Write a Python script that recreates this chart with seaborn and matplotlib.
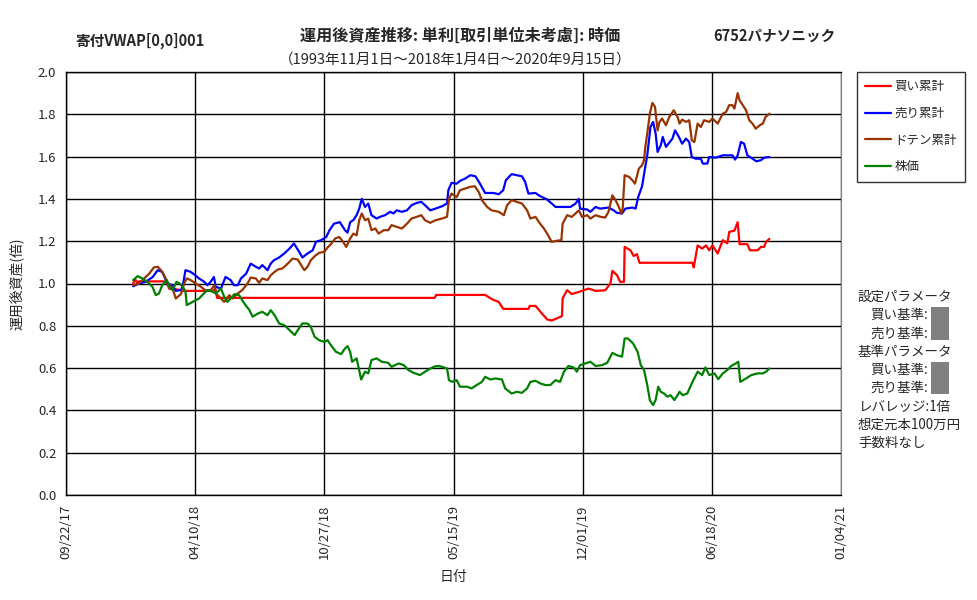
"""
Recreate: 運用後資産推移 line chart (6752 パナソニック)
"""
import pandas as pd
import numpy as np
import matplotlib
matplotlib.use('Agg')
import matplotlib.pyplot as plt
import matplotlib.dates as mdates
import seaborn as sns

sns.set_style('white')
plt.rcParams['font.family'] = ['Noto Sans CJK JP', 'DejaVu Sans']

# ---------------------------------------------------------
# Data (days counted from 2017-09-22)
# ---------------------------------------------------------
START = pd.Timestamp('2017-09-22')

red_day = [104, 107, 110, 113, 155, 160, 172, 183, 228, 231, 234, 571, 573, 649, 660,
           670, 677, 716, 718, 727, 737, 745, 752, 760, 768, 769, 776, 783, 794, 809,
           820, 835, 843, 846, 853, 858, 864, 865, 874, 879, 884, 888, 970, 972, 978,
           985, 991, 996, 1001, 1009, 1017, 1024, 1027, 1035, 1040, 1043, 1055, 1059, 1071, 1076,
           1081, 1084, 1089]
red_val = [1.0, 1.02, 1.005, 1.01, 1.01, 0.975, 0.972, 0.965, 0.965, 0.976, 0.932, 0.932, 0.946, 0.946, 0.925,
           0.913, 0.88, 0.88, 0.894, 0.894, 0.858, 0.83, 0.825, 0.835, 0.846, 0.93, 0.969, 0.95, 0.96, 0.976,
           0.965, 0.968, 1.0, 1.06, 1.04, 1.008, 1.008, 1.173, 1.157, 1.13, 1.139, 1.098, 1.098, 1.076, 1.18,
           1.165, 1.18, 1.157, 1.18, 1.142, 1.205, 1.19, 1.244, 1.25, 1.29, 1.186, 1.186, 1.157, 1.157, 1.173,
           1.173, 1.197, 1.211]

blue_day = [104, 113, 123, 134, 142, 149, 157, 165, 170, 178, 181, 185, 193, 198, 206,
            214, 219, 224, 229, 232, 240, 247, 255, 260, 266, 271, 279, 286, 294, 299,
            304, 312, 317, 322, 330, 338, 346, 353, 361, 366, 374, 382, 387, 395, 403,
            408, 415, 424, 432, 436, 440, 445, 450, 454, 458, 463, 468, 473, 481, 486,
            494, 502, 507, 512, 520, 528, 535, 543, 550, 556, 564, 572, 582, 590, 592,
            597, 605, 610, 618, 626, 634, 641, 649, 662, 670, 677, 681, 690, 698, 706,
            711, 716, 727, 732, 737, 745, 752, 758, 781, 789, 794, 796, 807, 812, 820,
            827, 840, 848, 853, 861, 866, 877, 882, 886, 892, 896, 900, 905, 909, 913,
            916, 921, 924, 929, 935, 939, 943, 949, 954, 960, 965, 969, 975, 983, 986,
            993, 996, 1006, 1017, 1032, 1036, 1040, 1045, 1050, 1055, 1063, 1069, 1076, 1081, 1089]
blue_val = [0.987, 1.0, 1.008, 1.03, 1.063, 1.055, 1.0, 0.992, 0.965, 0.969, 0.992, 1.063, 1.055, 1.044, 1.024,
            1.008, 0.992, 1.008, 1.031, 0.984, 0.976, 1.031, 1.016, 0.992, 0.992, 1.024, 1.047, 1.094, 1.079, 1.071,
            1.087, 1.063, 1.094, 1.11, 1.123, 1.142, 1.165, 1.189, 1.15, 1.123, 1.142, 1.157, 1.197, 1.205, 1.22,
            1.252, 1.283, 1.29, 1.252, 1.24, 1.29, 1.3, 1.323, 1.354, 1.40, 1.362, 1.378, 1.323, 1.307, 1.315,
            1.323, 1.339, 1.331, 1.346, 1.339, 1.346, 1.37, 1.381, 1.386, 1.37, 1.346, 1.354, 1.365, 1.378, 1.441,
            1.476, 1.472, 1.485, 1.496, 1.512, 1.507, 1.472, 1.428, 1.428, 1.422, 1.441, 1.488, 1.517, 1.512, 1.507,
            1.48, 1.425, 1.428, 1.417, 1.409, 1.397, 1.378, 1.362, 1.362, 1.378, 1.40, 1.354, 1.35, 1.339, 1.362,
            1.354, 1.359, 1.346, 1.334, 1.331, 1.354, 1.359, 1.354, 1.409, 1.46, 1.535, 1.606, 1.74, 1.764, 1.709,
            1.622, 1.654, 1.693, 1.646, 1.669, 1.685, 1.724, 1.693, 1.661, 1.685, 1.669, 1.598, 1.59, 1.59, 1.567,
            1.567, 1.598, 1.595, 1.606, 1.606, 1.586, 1.606, 1.669, 1.661, 1.606, 1.59, 1.578, 1.583, 1.595, 1.598]

brown_day = [104, 113, 121, 129, 136, 142, 147, 152, 157, 165, 170, 178, 183, 187, 193,
             201, 209, 217, 224, 230, 232, 240, 245, 253, 258, 266, 273, 281, 286, 294,
             299, 304, 312, 317, 323, 328, 335, 341, 351, 359, 364, 369, 374, 379, 385,
             392, 400, 405, 410, 417, 423, 429, 434, 440, 445, 450, 454, 458, 463, 468,
             473, 479, 484, 492, 499, 504, 512, 520, 528, 535, 543, 550, 556, 564, 572,
             582, 590, 593, 597, 605, 610, 618, 626, 633, 639, 644, 652, 659, 670, 678,
             683, 690, 698, 706, 714, 719, 727, 734, 740, 745, 752, 760, 767, 769, 776,
             783, 789, 794, 799, 807, 812, 820, 828, 835, 840, 846, 851, 856, 860, 862,
             865, 872, 877, 881, 885, 887, 892, 895, 897, 900, 904, 908, 912, 916, 919,
             923, 929, 934, 941, 947, 950, 954, 960, 965, 969, 973, 978, 983, 988, 996,
             1001, 1009, 1017, 1022, 1027, 1032, 1035, 1040, 1043, 1048, 1053, 1058, 1063, 1068, 1074,
             1079, 1083, 1089]
brown_val = [0.992, 1.0, 1.024, 1.047, 1.076, 1.079, 1.063, 1.039, 1.008, 0.976, 0.929, 0.95, 1.0, 1.024, 1.016,
             1.0, 0.984, 0.965, 0.969, 0.992, 0.953, 0.929, 0.913, 0.945, 0.929, 0.953, 0.969, 1.0, 1.028, 1.024,
             1.003, 1.024, 1.016, 1.039, 1.055, 1.066, 1.071, 1.087, 1.118, 1.113, 1.087, 1.063, 1.079, 1.11, 1.129,
             1.145, 1.15, 1.17, 1.186, 1.213, 1.22, 1.197, 1.173, 1.213, 1.236, 1.228, 1.299, 1.331, 1.299, 1.307,
             1.252, 1.26, 1.236, 1.252, 1.252, 1.276, 1.268, 1.26, 1.283, 1.307, 1.315, 1.323, 1.299, 1.287, 1.299,
             1.307, 1.315, 1.40, 1.425, 1.409, 1.441, 1.449, 1.457, 1.46, 1.433, 1.394, 1.362, 1.346, 1.339, 1.323,
             1.37, 1.394, 1.386, 1.378, 1.346, 1.307, 1.315, 1.283, 1.26, 1.236, 1.197, 1.202, 1.205, 1.283, 1.323,
             1.315, 1.331, 1.346, 1.315, 1.323, 1.307, 1.323, 1.315, 1.312, 1.339, 1.417, 1.394, 1.362, 1.331, 1.354,
             1.512, 1.504, 1.488, 1.472, 1.52, 1.543, 1.559, 1.583, 1.646, 1.709, 1.803, 1.854, 1.835, 1.724, 1.764,
             1.78, 1.748, 1.787, 1.819, 1.787, 1.756, 1.775, 1.764, 1.772, 1.677, 1.669, 1.756, 1.74, 1.772, 1.764,
             1.78, 1.756, 1.803, 1.811, 1.843, 1.843, 1.827, 1.90, 1.866, 1.843, 1.819, 1.772, 1.756, 1.732, 1.748,
             1.756, 1.787, 1.803]

green_day = [104, 111, 118, 126, 134, 139, 144, 149, 156, 160, 165, 171, 176, 181, 185,
             187, 196, 206, 211, 219, 227, 232, 240, 245, 250, 255, 261, 268, 276, 284,
             289, 297, 304, 312, 317, 323, 330, 338, 346, 354, 359, 366, 374, 379, 385,
             392, 400, 405, 410, 418, 426, 432, 436, 440, 443, 450, 454, 457, 463, 468,
             473, 481, 489, 499, 504, 515, 523, 530, 538, 548, 556, 564, 572, 579, 590,
             593, 598, 605, 610, 621, 628, 636, 644, 649, 657, 665, 675, 680, 690, 698,
             706, 714, 719, 727, 734, 742, 750, 758, 765, 771, 778, 786, 791, 796, 804,
             812, 820, 830, 838, 846, 853, 861, 865, 870, 878, 885, 890, 895, 900, 904,
             909, 913, 917, 921, 926, 931, 936, 942, 947, 950, 955, 962, 969, 978, 985,
             990, 996, 1004, 1010, 1017, 1024, 1030, 1037, 1041, 1044, 1053, 1061, 1071, 1079, 1084,
             1089]
green_val = [1.016, 1.035, 1.024, 1.008, 0.984, 0.945, 0.953, 0.992, 1.016, 0.984, 0.969, 1.008, 1.0, 0.984, 0.961,
             0.898, 0.913, 0.929, 0.945, 0.969, 0.961, 0.953, 0.976, 0.937, 0.913, 0.929, 0.95, 0.945, 0.906, 0.874,
             0.843, 0.858, 0.866, 0.85, 0.874, 0.85, 0.811, 0.803, 0.78, 0.756, 0.78, 0.811, 0.811, 0.795, 0.748,
             0.732, 0.724, 0.732, 0.709, 0.677, 0.666, 0.693, 0.704, 0.677, 0.63, 0.646, 0.59, 0.546, 0.583, 0.575,
             0.638, 0.646, 0.63, 0.625, 0.606, 0.622, 0.614, 0.591, 0.578, 0.567, 0.583, 0.598, 0.609, 0.609, 0.598,
             0.543, 0.535, 0.543, 0.512, 0.512, 0.504, 0.52, 0.535, 0.559, 0.546, 0.551, 0.546, 0.504, 0.48, 0.488,
             0.483, 0.504, 0.535, 0.54, 0.528, 0.52, 0.52, 0.543, 0.535, 0.583, 0.61, 0.603, 0.583, 0.614, 0.622,
             0.63, 0.61, 0.614, 0.625, 0.672, 0.661, 0.654, 0.74, 0.74, 0.717, 0.677, 0.614, 0.591, 0.52, 0.449,
             0.425, 0.449, 0.512, 0.488, 0.48, 0.465, 0.472, 0.449, 0.472, 0.488, 0.472, 0.48, 0.528, 0.583, 0.567,
             0.603, 0.567, 0.575, 0.548, 0.575, 0.591, 0.61, 0.622, 0.63, 0.535, 0.551, 0.567, 0.575, 0.575, 0.583,
             0.598]

series_names = ['買い累計', '売り累計', 'ドテン累計', '株価']
series_colors = ['#FF0000', '#0000FF', '#993300', '#008000']
series_days = [red_day, blue_day, brown_day, green_day]
series_vals = [red_val, blue_val, brown_val, green_val]

xtick_days = [0, 200, 400, 600, 800, 1000, 1200]
ytick_vals = [0.0, 0.2, 0.4, 0.6, 0.8, 1.0, 1.2, 1.4, 1.6, 1.8, 2.0]

frames = []
for name, d, v in zip(series_names, series_days, series_vals):
    frames.append(pd.DataFrame({'date': START + pd.to_timedelta(d, unit='D'),
                                'value': v, 'series': name}))
df = pd.concat(frames, ignore_index=True)

# ---------------------------------------------------------
# Plot
# ---------------------------------------------------------
fig = plt.figure(figsize=(9.77, 6.0), dpi=100)
ax = fig.add_axes([66 / 977, 1 - 495 / 600, (841 - 66) / 977, (495 - 72) / 600])

sns.lineplot(data=df, x='date', y='value', hue='series', hue_order=series_names,
             palette=dict(zip(series_names, series_colors)), estimator=None,
             sort=False, linewidth=1.6, ax=ax)

xticks = [START + pd.Timedelta(days=d) for d in xtick_days]
ax.set_xlim(xticks[0], xticks[-1])
ax.set_xticks(xticks)
ax.xaxis.set_major_formatter(mdates.DateFormatter('%m/%d/%y'))
ax.set_ylim(0, 2.0)
ax.set_yticks(ytick_vals)
ax.set_yticklabels([f'{v:.1f}' for v in ytick_vals])

ax.grid(True, color='black', linewidth=1.0)
ax.set_axisbelow(True)
for side in ['left', 'bottom', 'top']:
    ax.spines[side].set_color('black')
    ax.spines[side].set_linewidth(1.0)
ax.spines['right'].set_color('#808080')
ax.tick_params(axis='both', direction='out', length=4, width=1, color='black',
               labelsize=9.5, pad=3)
ax.tick_params(axis='x', labelrotation=90)

ax.set_xlabel('日付', fontsize=10, labelpad=8)
ax.set_ylabel('運用後資産(倍)', fontsize=10, labelpad=10)

leg = ax.legend(loc='upper left', bbox_to_anchor=(857 / 977, 1 - 72 / 600),
                bbox_transform=fig.transFigure, fontsize=9, frameon=True,
                fancybox=False, edgecolor='black', handlelength=2.1,
                labelspacing=1.1, borderpad=0.65, handletextpad=0.25,
                borderaxespad=0)
leg.get_frame().set_linewidth(1.0)

# Titles
fig.text(75 / 977, 1 - 41 / 600, '寄付VWAP[0,0]001', fontsize=10.5,
         fontweight='bold', ha='left', va='center')
fig.text(460 / 977, 1 - 36 / 600, '運用後資産推移: 単利[取引単位未考慮]: 時価',
         fontsize=11.6, fontweight='bold', ha='center', va='center')
fig.text(713 / 977, 1 - 36 / 600, '6752パナソニック', fontsize=10.5,
         fontweight='bold', ha='left', va='center')
fig.text(455 / 977, 1 - 60 / 600, '（1993年11月1日～2018年1月4日～2020年9月15日）',
         fontsize=10.5, ha='center', va='center')

# Side notes
notes = [(858, 297, '設定パラメータ'), (870, 315, '買い基準:'), (870, 334, '売り基準:'),
         (858, 352, '基準パラメータ'), (870, 370, '買い基準:'), (870, 388, '売り基準:'),
         (858, 407, 'レバレッジ:1倍'), (858, 425, '想定元本100万円'), (858, 443, '手数料なし')]
for x, y, s in notes:
    fig.text(x / 977, 1 - y / 600, s, fontsize=9.7, ha='left', va='center')
for y0, y1 in [(307, 340), (362, 394)]:
    fig.patches.append(plt.Rectangle((931 / 977, 1 - y1 / 600), 18 / 977, (y1 - y0) / 600,
                                     transform=fig.transFigure, facecolor='#808080',
                                     edgecolor='none'))

plt.savefig('out.png', dpi=100)
plt.close()
